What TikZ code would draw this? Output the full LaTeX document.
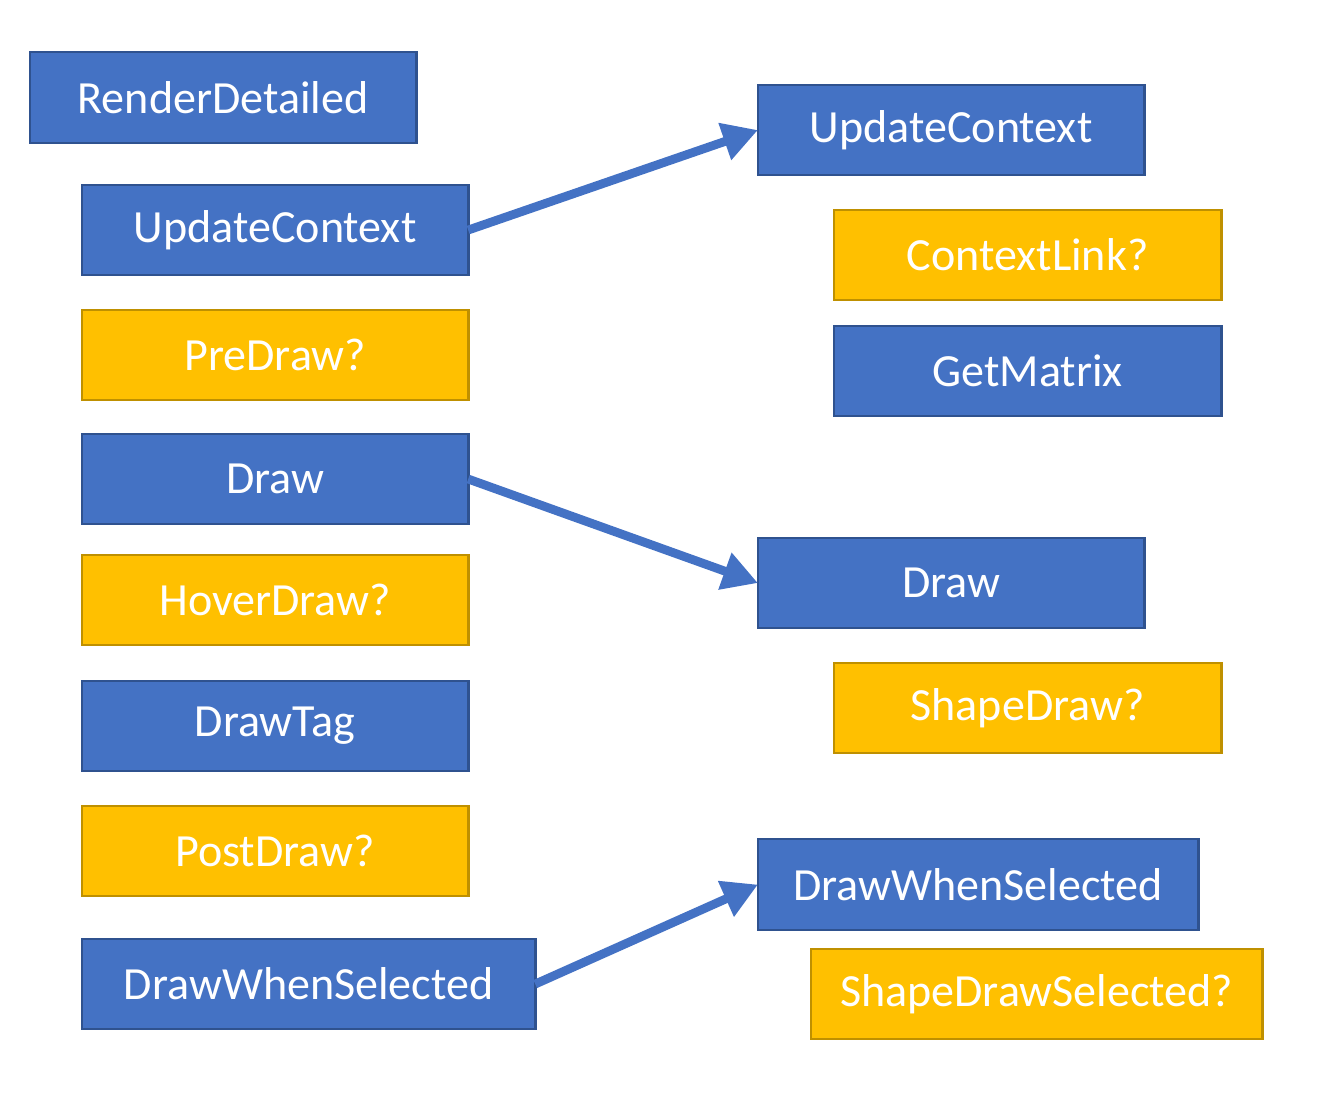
\documentclass[tikz,border=0pt]{standalone}
\usepackage{fontspec}
\setmainfont{Carlito}
\usetikzlibrary{arrows.meta}
\definecolor{bfill}{HTML}{4472C4}
\definecolor{bline}{HTML}{2F528F}
\definecolor{yfill}{HTML}{FFC000}
\definecolor{yline}{HTML}{BF9000}
\tikzset{
  box/.style={draw, line width=0.8pt, inner sep=0pt, outer sep=0pt, text=white,
    font=\fontsize{13.1pt}{15pt}\selectfont, anchor=north west},
  bbox/.style={box, fill=bfill, draw=bline},
  ybox/.style={box, fill=yfill, draw=yline},
  conn/.style={draw=bfill, line width=2.5pt, -{Triangle[length=10pt,width=10.5pt]}},
}
\begin{document}
\begin{tikzpicture}[x=0.01cm,y=-0.01cm]
\useasboundingbox (0,0) rectangle (1327,1093);
% left column
\node[bbox, minimum width=3.86cm, minimum height=0.91cm] (rd) at (30,52) {RenderDetailed};
\node[bbox, minimum width=3.86cm, minimum height=0.90cm] (ucl) at (82,185) {UpdateContext};
\node[ybox, minimum width=3.86cm, minimum height=0.90cm] (pre) at (82,310) {PreDraw?};
\node[bbox, minimum width=3.86cm, minimum height=0.90cm] (drl) at (82,434) {Draw};
\node[ybox, minimum width=3.86cm, minimum height=0.90cm] (hov) at (82,555) {HoverDraw?};
\node[bbox, minimum width=3.86cm, minimum height=0.90cm] (tag) at (82,681) {DrawTag};
\node[ybox, minimum width=3.86cm, minimum height=0.90cm] (post) at (82,806) {PostDraw?};
\node[bbox, minimum width=4.53cm, minimum height=0.90cm] (dwsl) at (82,939) {DrawWhenSelected};
% right column
\node[bbox, minimum width=3.86cm, minimum height=0.90cm] (ucr) at (758,85) {UpdateContext};
\node[ybox, minimum width=3.87cm, minimum height=0.90cm] (cl) at (834,210) {ContextLink?};
\node[bbox, minimum width=3.87cm, minimum height=0.90cm] (gm) at (834,326) {GetMatrix};
\node[bbox, minimum width=3.86cm, minimum height=0.90cm] (drr) at (758,538) {Draw};
\node[ybox, minimum width=3.87cm, minimum height=0.90cm] (sd) at (834,663) {ShapeDraw?};
\node[bbox, minimum width=4.40cm, minimum height=0.91cm] (dwsr) at (758,839) {DrawWhenSelected};
\node[ybox, minimum width=4.51cm, minimum height=0.90cm] (sds) at (811,949) {ShapeDrawSelected?};
% connectors
\draw[conn] (ucl.east) -- (ucr.west);
\draw[conn] (drl.east) -- (drr.west);
\draw[conn] (dwsl.east) -- (dwsr.west);
\end{tikzpicture}
\end{document}
